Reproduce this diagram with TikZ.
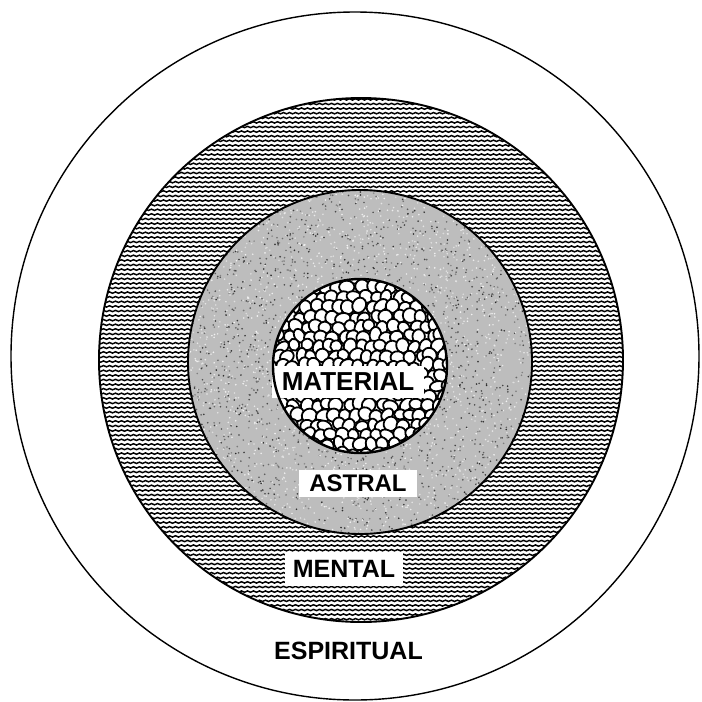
\documentclass[tikz,border=0pt]{standalone}
\usepackage{fontspec}
\setmainfont{Liberation Sans}
\usetikzlibrary{patterns}
\pgfdeclarepatternformonly{wavelines}{\pgfqpoint{0pt}{-2.3pt}}{\pgfqpoint{6pt}{2.3pt}}{\pgfqpoint{6pt}{4.6pt}}{
  \pgfsetlinewidth{1.5pt}
  \pgfpathmoveto{\pgfqpoint{0pt}{0pt}}
  \pgfpathsine{\pgfqpoint{1.5pt}{0.65pt}}
  \pgfpathcosine{\pgfqpoint{1.5pt}{-0.65pt}}
  \pgfpathsine{\pgfqpoint{1.5pt}{-0.65pt}}
  \pgfpathcosine{\pgfqpoint{1.5pt}{0.65pt}}
  \pgfusepath{stroke}
}
\tikzset{
  lbl/.style={font=\bfseries\fontsize{#1}{#1}\selectfont, text=black, inner sep=0pt},
  cell/.style={fill=white, draw=black, line width=1.8pt},
}
\begin{document}
\begin{tikzpicture}[x=1pt,y=-1pt]
\useasboundingbox (0,0) rectangle (702,702);
\fill[white] (0,0) rectangle (702,702);
\coordinate (co) at (355,356);
\coordinate (cm) at (361,360);
\coordinate (ca) at (360,362);
\coordinate (cc) at (360,366);
% outer (espiritual)
\draw[line width=1.4pt] (co) circle[radius=344];
% mental band
\fill[pattern=wavelines, pattern color=black] (cm) circle[radius=262];
\draw[line width=1.9pt] (cm) circle[radius=262];
% astral
\fill[black!26] (ca) circle[radius=172];
\pgfmathsetseed{11}
\begin{scope}
  \clip (ca) circle[radius=172];
  \foreach \i in {1,...,3200} {
    \pgfmathsetmacro\ang{rnd*360}
    \pgfmathsetmacro\rad{172*sqrt(rnd)}
    \pgfmathtruncatemacro\sh{rnd<0.5 ? 5+rnd*10 : 45+rnd*40}
    \fill[black!\sh, shift={(ca)}] (\ang:\rad) circle[radius=0.9];
  }
\end{scope}
\draw[line width=1.9pt] (ca) circle[radius=172];
% material
\fill[white] (cc) circle[radius=87];
\begin{scope}
  \clip (cc) circle[radius=87];
  \foreach \j in {-10,...,10} {
    \foreach \i in {-9,...,9} {
      \pgfmathsetmacro\px{360+\i*11+abs(mod(\j,2))*5.5+(rnd-0.5)*5}
      \pgfmathsetmacro\py{366+\j*9.8+(rnd-0.5)*4}
      \pgfmathsetmacro\rx{5.6+rnd*2.4}
      \pgfmathsetmacro\ry{5.0+rnd*2.2}
      \pgfmathsetmacro\rot{rnd*180}
      \path[cell, rotate around={\rot:(\px,\py)}] (\px,\py) ellipse[x radius=\rx, y radius=\ry];
    }
  }
\end{scope}
\node[lbl=26, fill=white, minimum width=152pt, minimum height=32pt] (material) at (348,382) {MATERIAL};
\draw[line width=2.4pt] (cc) circle[radius=87];
% labels
\node[lbl=24, fill=white, minimum width=118pt, minimum height=27pt] (astral) at (358,483.5) {ASTRAL};
\node[lbl=25, fill=white, minimum width=118pt, minimum height=34pt] (mental) at (344,569) {MENTAL};
\node[lbl=25] (espiritual) at (348.5,650.5) {ESPIRITUAL};
\end{tikzpicture}
\end{document}
